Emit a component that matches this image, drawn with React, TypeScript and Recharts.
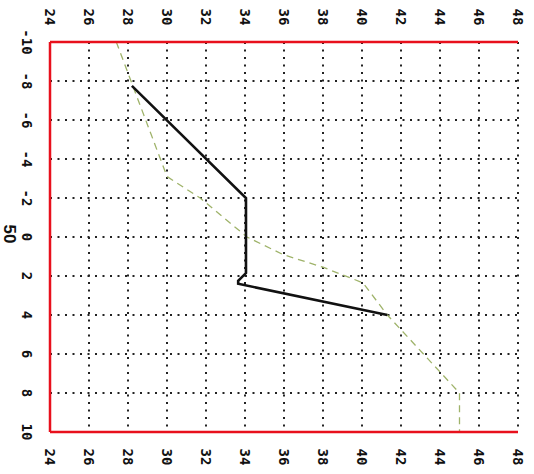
import { LineChart, Line, XAxis, YAxis, CartesianGrid } from 'recharts';

// depth axis (drawn top to bottom) and value axis (drawn left to right)
const DEPTH_TICKS = [-10, -8, -6, -4, -2, 0, 2, 4, 6, 8, 10];
const VALUE_TICKS = [24, 26, 28, 30, 32, 34, 36, 38, 40, 42, 44, 46, 48];
const AXIS_TITLE = '50';

// solid black profile
const BLACK_DEPTH = [-7.75, -2, 1.85, 2.25, 2.4, 4];
const BLACK_VALUE = [28.2, 34.05, 34.05, 33.65, 33.65, 41.3];

// dashed green profile
const GREEN_DEPTH = [-10, -3.1, -2, 0, 0.9, 1.55, 2.35, 4, 8, 10];
const GREEN_VALUE = [27.4, 30.0, 31.7, 34.1, 35.95, 38.0, 40.05, 41.3, 45.0, 45.0];

const blackData = BLACK_DEPTH.map((d, i) => ({ d, v: BLACK_VALUE[i] }));
const greenData = GREEN_DEPTH.map((d, i) => ({ d, v: GREEN_VALUE[i] }));

const RED = '#e8101c';
const TICK_FONT = { fontFamily: '"DejaVu Sans Mono", monospace', fontWeight: 700, fontSize: 14, fill: '#111' };

// tick labels are turned a quarter turn clockwise, like the scanned plot
function RotTick({ x, y, payload, fixX, fixY }: any) {
  const tx = fixX ?? x;
  const ty = fixY ?? y;
  return (
    <text
      x={tx}
      y={ty}
      transform={`rotate(90 ${tx} ${ty})`}
      textAnchor="middle"
      dominantBaseline="central"
      {...TICK_FONT}
    >
      {String(payload.value)}
    </text>
  );
}

function AxisTitle({ viewBox }: any) {
  const tx = viewBox.x + 9;
  const ty = viewBox.y + viewBox.height / 2 - 3;
  return (
    <text
      x={tx}
      y={ty}
      transform={`rotate(90 ${tx} ${ty})`}
      textAnchor="middle"
      dominantBaseline="central"
      fontFamily='"Liberation Sans", Arial, sans-serif'
      fontSize={17}
      fontWeight={600}
      fill="#111"
    >
      {AXIS_TITLE}
    </text>
  );
}

export default function App() {
  return (
    <div style={{ position: 'absolute', left: 0, top: 0, width: 534, height: 474, background: '#fff' }}>
      <LineChart
        width={534}
        height={474}
        layout="vertical"
        margin={{ top: 0, right: 16, bottom: 0, left: 0 }}
      >
        <CartesianGrid
          xAxisId="bottom"
          stroke="#222"
          strokeWidth={2}
          strokeDasharray="2 5.5"
        />
        <XAxis
          xAxisId="top"
          orientation="top"
          type="number"
          domain={[24, 48]}
          ticks={VALUE_TICKS}
          allowDataOverflow
          height={42}
          axisLine={{ stroke: RED, strokeWidth: 2.5 }}
          tickLine={false}
          tick={<RotTick fixY={17} />}
          interval={0}
        />
        <XAxis
          xAxisId="bottom"
          orientation="bottom"
          type="number"
          domain={[24, 48]}
          ticks={VALUE_TICKS}
          allowDataOverflow
          height={42}
          axisLine={{ stroke: RED, strokeWidth: 2.5 }}
          tickLine={false}
          tick={<RotTick fixY={457} />}
          interval={0}
        />
        <YAxis
          type="number"
          dataKey="d"
          domain={[-10, 10]}
          ticks={DEPTH_TICKS}
          allowDataOverflow
          width={50}
          axisLine={{ stroke: RED, strokeWidth: 2.5 }}
          tickLine={false}
          tick={<RotTick fixX={27} />}
          interval={0}
          label={<AxisTitle />}
        />
        <Line
          xAxisId="bottom"
          data={greenData}
          dataKey="v"
          stroke="#9fb36a"
          strokeWidth={1.3}
          strokeDasharray="7 5"
          dot={false}
          isAnimationActive={false}
        />
        <Line
          xAxisId="bottom"
          data={blackData}
          dataKey="v"
          stroke="#111"
          strokeWidth={2.6}
          dot={false}
          isAnimationActive={false}
        />
      </LineChart>
    </div>
  );
}
